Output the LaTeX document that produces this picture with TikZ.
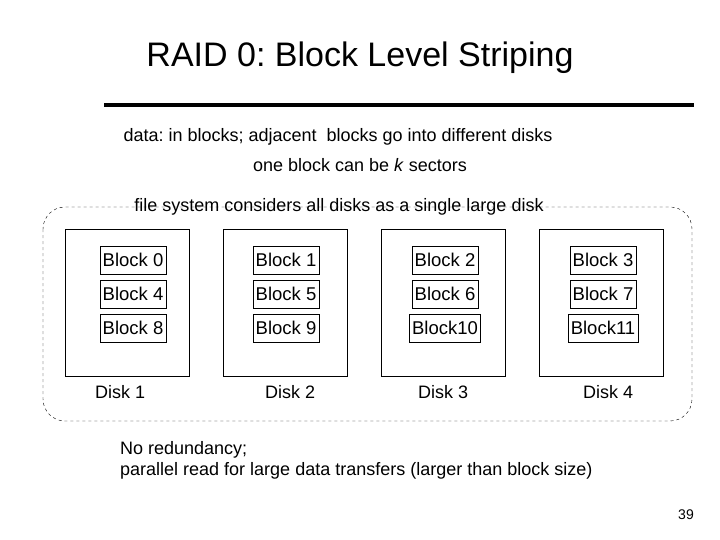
\documentclass[tikz,border=0pt]{standalone}
\usepackage{fontspec}
\setmainfont{Liberation Sans}
\frenchspacing
\begin{document}
\begin{tikzpicture}[x=1pt,y=-1pt,
  disk/.style={draw,minimum width=124pt,minimum height=147pt},
  blk/.style={draw,inner sep=2.5pt,minimum height=28pt,font=\fontsize{18.5}{21}\selectfont},
  txt/.style={font=\fontsize{18}{21}\selectfont}]
\useasboundingbox (0,0) rectangle (720,540);

\node[font=\fontsize{34}{38}\selectfont] (title) at (360,58) {RAID 0: Block Level Striping};
\draw[line width=4pt] (104,105) coordinate (l1) -- (694,105) coordinate (l2);

\node[txt,anchor=west] (data) at (120,137) {data: in blocks; adjacent\ \ blocks go into different disks};
\node[txt] (sect) at (360,165) {one block can be \textit{k} sectors};

\draw[dashed,rounded corners=22pt] (43,207) rectangle (692,421);
\node[txt] (fs) at (339,207) {file system considers all disks as a single large disk};

\foreach \i/\x/\o in {1/65/-7,2/223/5,3/381/0,4/539/7}{
  \node[disk,anchor=north west] (d\i) at (\x,229) {};
  \node[txt] (dl\i) at ([yshift=-16pt,xshift=\o pt]d\i.south) {Disk \i};
}
\node[blk] (b0) at (133,260) {Block 0};
\node[blk] (b4) at (133,294) {Block 4};
\node[blk] (b8) at (133,328) {Block 8};
\node[blk] (b1) at (286,260) {Block 1};
\node[blk] (b5) at (286,294) {Block 5};
\node[blk] (b9) at (286,328) {Block 9};
\node[blk] (b2) at (445,260) {Block 2};
\node[blk] (b6) at (445,294) {Block 6};
\node[blk] (b10) at (445,328) {Block10};
\node[blk] (b3) at (603,260) {Block 3};
\node[blk] (b7) at (603,294) {Block 7};
\node[blk] (b11) at (603,328) {Block11};

\node[txt,anchor=north west,align=left,inner sep=0pt] (note) at (120,441) {No redundancy;\\parallel read for large data transfers (larger than block size)};
\node[font=\fontsize{14}{16}\selectfont] (pg) at (686,515) {39};
\end{tikzpicture}
\end{document}
